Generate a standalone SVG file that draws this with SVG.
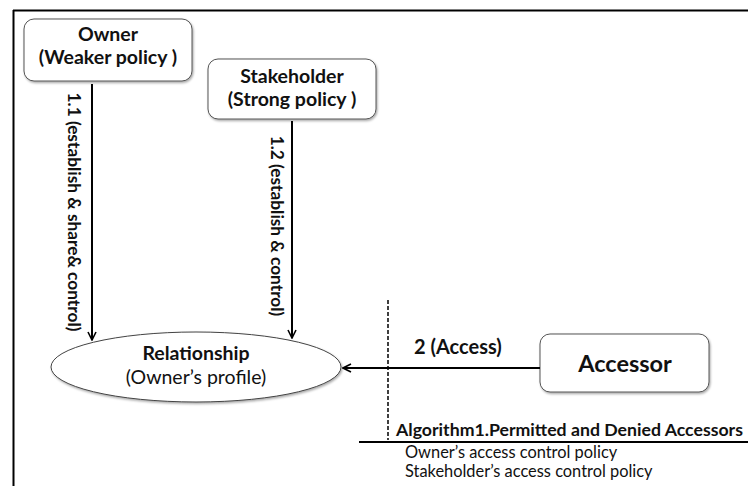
<svg xmlns="http://www.w3.org/2000/svg" width="748" height="486" viewBox="0 0 748 486">
<defs>
<marker id="arr" viewBox="0 0 10 10" refX="9" refY="5" markerWidth="10" markerHeight="10" markerUnits="userSpaceOnUse" orient="auto">
<path d="M1,1 L9,5 L1,9" fill="none" stroke="#000" stroke-width="1.6"/>
</marker>
<filter id="sh" x="-10%" y="-10%" width="130%" height="140%">
<feDropShadow dx="1" dy="1.5" stdDeviation="1.2" flood-color="#000" flood-opacity="0.35"/>
</filter>
</defs>
<style>
.box{fill:#fff;stroke:#555;stroke-width:1}
.t{font-family:Lato,"Liberation Sans",sans-serif;fill:#111}
.b{font-weight:bold}
.c{text-anchor:middle}
.ln{stroke:#000;stroke-width:2;fill:none}
</style>
<rect x="0" y="0" width="748" height="486" fill="#fff"/>
<g id="frame">
<line x1="13" y1="10.5" x2="748" y2="10.5" stroke="#000" stroke-width="2"/>
<line x1="13.5" y1="10" x2="13.5" y2="486" stroke="#000" stroke-width="2"/>
</g>
<g id="owner">
<rect class="box" x="24" y="19" width="168" height="62" rx="10" filter="url(#sh)"/>
<text class="t b c" x="108" y="41" font-size="19.5">Owner</text>
<text class="t b c" x="108" y="64" font-size="19.5">(Weaker policy )</text>
</g>
<g id="stakeholder">
<rect class="box" x="208" y="59" width="168" height="60" rx="10" filter="url(#sh)"/>
<text class="t b c" x="292" y="83" font-size="19.5">Stakeholder</text>
<text class="t b c" x="292" y="106" font-size="19.5">(Strong policy )</text>
</g>
<g id="relationship">
<ellipse cx="196" cy="367" rx="145" ry="35" fill="#fff" stroke="#444" stroke-width="1" filter="url(#sh)"/>
<text class="t b c" x="196" y="360" font-size="19.5">Relationship</text>
<text class="t c" x="196" y="384" font-size="19.5">(Owner’s profile)</text>
</g>
<g id="accessor">
<rect class="box" x="540" y="334" width="169" height="58" rx="10" filter="url(#sh)"/>
<text class="t b c" x="625" y="372" font-size="23.5">Accessor</text>
</g>
<g id="connectors">
<line class="ln" x1="92" y1="84" x2="92" y2="340" marker-end="url(#arr)"/>
<line class="ln" x1="292" y1="121" x2="292" y2="338" marker-end="url(#arr)"/>
<line class="ln" x1="540" y1="368" x2="343" y2="368" marker-end="url(#arr)"/>
<text class="t b c" transform="translate(74,212) rotate(90)" font-size="17.3" dy="6">1.1 (establish &amp; share&amp; control)</text>
<text class="t b c" transform="translate(277,226) rotate(90)" font-size="17.3" dy="6">1.2 (establish &amp; control)</text>
<text class="t b" x="414" y="354" font-size="20">2 (Access)</text>
</g>
<g id="algorithm">
<line x1="388" y1="300" x2="388" y2="440" stroke="#000" stroke-width="1.5" stroke-dasharray="4,2"/>
<line x1="359" y1="442" x2="748" y2="442" stroke="#000" stroke-width="2"/>
<text class="t b" x="396" y="436" font-size="17.7">Algorithm1.Permitted and Denied Accessors</text>
<text class="t" x="405" y="458" font-size="16.4">Owner’s access control policy</text>
<text class="t" x="405" y="477" font-size="16.4">Stakeholder’s access control policy</text>
</g>
</svg>
